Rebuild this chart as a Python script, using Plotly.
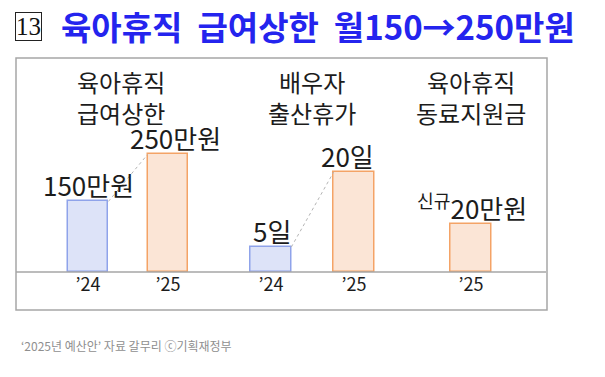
import plotly.graph_objects as go

# ---- data ----
group_titles = ["육아휴직<br>급여상한", "배우자<br>출산휴가", "육아휴직<br>동료지원금"]
g1_years = ["’24", "’25"]
g1_values = [150, 250]
g1_labels = ["150만원", "250만원"]
g2_years = ["’24", "’25"]
g2_values = [5, 20]
g2_labels = ["5일", "20일"]
g3_years = ["’25"]
g3_values = [20]
g3_labels = ["<sup>신규</sup>20만원"]
title_text = "육아휴직  급여상한  월150→250만원"
source_text = "‘2025년 예산안’ 자료 갈무리 ⓒ기획재정부"

# ---- styles ----
W, H = 605, 377
L, R, T, B = 16, 59, 58, 105
PW, PH = W - L - R, H - T - B
FONT = "Noto Sans CJK KR"
BLUE_FILL, BLUE_LINE = "#dde3f8", "#8fa3ea"
ORG_FILL, ORG_LINE = "#fbe5d6", "#f4a366"
TXT = "#1c1c1c"


def px_x(p):
    return (p - L) / PW


def px_y(p):
    return (H - B - p) / PH


fig = go.Figure()

groups = [
    (g1_years, g1_values, g1_labels, [BLUE_FILL, ORG_FILL], [BLUE_LINE, ORG_LINE], "x", "y", 0.51, [0, 7]),
    (g2_years, g2_values, g2_labels, [BLUE_FILL, ORG_FILL], [BLUE_LINE, ORG_LINE], "x2", "y2", 0.49, [1, -7]),
    (g3_years, g3_values, g3_labels, [ORG_FILL], [ORG_LINE], "x3", "y3", 0.49, [1]),
]

for yrs, vals, labs, fills, lines, xa, ya, bw, shifts in groups:
    fig.add_trace(go.Bar(
        x=yrs, y=vals, xaxis=xa, yaxis=ya, width=bw,
        marker=dict(color=fills, line=dict(color=lines, width=1.5)),
        hoverinfo="skip", showlegend=False,
    ))
    for i, (yv, v, lab) in enumerate(zip(yrs, vals, labs)):
        fig.add_annotation(
            x=yv, y=v, xref=xa, yref=ya, text=lab, showarrow=False,
            yanchor="bottom", xanchor="center", xshift=shifts[i], yshift=-4,
            font=dict(family=FONT, size=26, color=TXT),
        )
    if len(vals) == 2:
        fig.add_shape(
            type="line", xref=xa, yref=ya,
            x0=bw / 2, y0=vals[0], x1=1 - bw / 2, y1=vals[1],
            line=dict(color="#b5b5b5", width=1, dash="dot"),
        )

axis_common = dict(showgrid=False, zeroline=False, showline=False, ticks="",
                   tickfont=dict(family=FONT, size=18, color=TXT), fixedrange=True,
                   autorange=False)
yaxis_common = dict(showgrid=False, zeroline=False, showline=False,
                    showticklabels=False, domain=[0, 1], fixedrange=True)

fig.update_layout(
    width=W, height=H,
    margin=dict(l=L, r=R, t=T, b=B, autoexpand=False),
    paper_bgcolor="white", plot_bgcolor="white",
    bargap=0,
    xaxis=dict(domain=[px_x(48), px_x(208)], anchor="y", range=[-0.5, 1.5], **axis_common),
    xaxis2=dict(domain=[px_x(229.5), px_x(395.5)], anchor="y2", range=[-0.5, 1.5], **axis_common),
    xaxis3=dict(domain=[px_x(429.5), px_x(512.5)], anchor="y3", range=[-0.5, 0.5], **axis_common),
    yaxis=dict(range=[0, 455], anchor="x", **yaxis_common),
    yaxis2=dict(range=[0, 42.8], anchor="x2", **yaxis_common),
    yaxis3=dict(range=[0, 89.2], anchor="x3", **yaxis_common),
)

# frame box and baseline
fig.add_shape(type="rect", xref="paper", yref="paper",
              x0=px_x(16), x1=px_x(547), y0=px_y(310), y1=px_y(58),
              line=dict(color="#a6a6a6", width=1.5), fillcolor="rgba(0,0,0,0)", layer="below")
fig.add_shape(type="line", xref="paper", yref="paper",
              x0=px_x(16), x1=px_x(546), y0=0, y1=0,
              line=dict(color="#a6a6a6", width=1.5))

# group titles
for gx, gt in zip([121, 312, 471], group_titles):
    fig.add_annotation(x=px_x(gx), y=px_y(97), xref="paper", yref="paper",
                       text=gt, showarrow=False, xanchor="center", yanchor="middle",
                       font=dict(family=FONT, size=24, color=TXT))

# title number box
fig.add_annotation(x=px_x(28.5), y=px_y(26), xref="paper", yref="paper",
                   text="13", showarrow=False, xanchor="center", yanchor="middle",
                   bordercolor="#222222", borderwidth=1, borderpad=0,
                   font=dict(family="Liberation Serif", size=25, color="#111111"))
# title
fig.add_annotation(x=px_x(59), y=px_y(26), xref="paper", yref="paper",
                   text="<b>" + title_text + "</b>", showarrow=False,
                   xanchor="left", yanchor="middle",
                   font=dict(family=FONT, size=33, color="#2424ee"))
# source
fig.add_annotation(x=px_x(19), y=px_y(345), xref="paper", yref="paper",
                   text=source_text, showarrow=False, xanchor="left", yanchor="middle",
                   font=dict(family=FONT, size=12, color="#8f8f8f"))

fig.write_html("out.html", config={"displayModeBar": False},
               post_script="document.body.style.margin='0px';")
